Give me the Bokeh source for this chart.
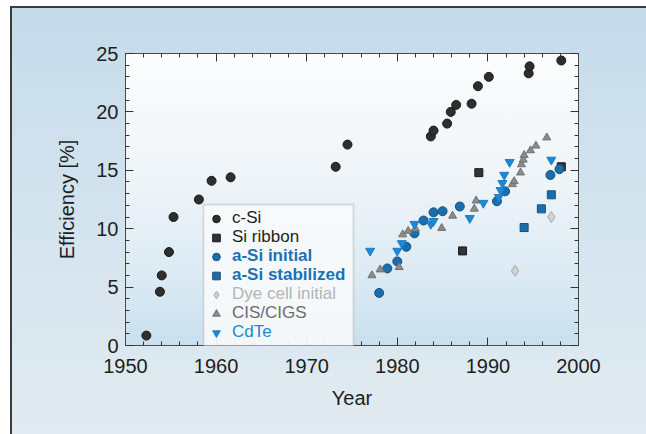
from bokeh.plotting import figure
from bokeh.models import (Legend, LegendItem, LinearAxis, SingleIntervalTicker, Range1d,
                          BoxAnnotation, CustomJSTickFormatter)
from bokeh.embed import file_html
from bokeh.resources import INLINE

# ---------------- data ----------------
c_si_year = [1952.3, 1953.8, 1954.0, 1954.8, 1955.3, 1958.1, 1959.5, 1961.6, 1973.2, 1974.5,
             1983.7, 1984.0, 1985.5, 1985.9, 1986.5, 1988.2, 1988.9, 1990.1, 1994.5, 1994.6, 1998.1]
c_si_eff = [0.85, 4.6, 6.0, 8.0, 11.0, 12.5, 14.1, 14.4, 15.3, 17.2,
            17.9, 18.4, 19.0, 20.0, 20.6, 20.7, 22.2, 23.0, 23.3, 23.9, 24.4]

ribbon_year = [1987.2, 1989.0, 1998.1]
ribbon_eff = [8.1, 14.8, 15.3]

asi_init_year = [1978.0, 1978.9, 1980.0, 1981.0, 1981.9, 1982.9, 1984.0, 1985.0, 1986.9,
                 1991.0, 1991.9, 1996.9, 1997.9]
asi_init_eff = [4.5, 6.6, 7.2, 8.45, 9.6, 10.7, 11.4, 11.5, 11.9, 12.35, 13.2, 14.6, 15.1]

asi_stab_year = [1994.0, 1995.9, 1997.0]
asi_stab_eff = [10.1, 11.7, 12.9]

dye_year = [1993.0, 1997.0]
dye_eff = [6.4, 11.0]

cis_year = [1977.2, 1978.1, 1980.2, 1980.6, 1981.2, 1982.0, 1984.9, 1986.1, 1988.5, 1988.7,
            1992.7, 1992.9, 1993.6, 1993.7, 1993.9, 1994.0, 1994.7, 1995.3, 1996.5]
cis_eff = [6.0, 6.5, 6.7, 9.5, 9.8, 10.0, 10.05, 11.1, 11.7, 12.4,
           13.8, 14.05, 14.8, 15.5, 15.9, 16.3, 16.7, 17.1, 17.8]

cdte_year = [1977.0, 1980.0, 1980.5, 1981.9, 1983.7, 1984.0, 1988.0, 1989.5, 1991.2, 1991.4,
             1991.6, 1991.8, 1992.4, 1997.0]
cdte_eff = [8.1, 8.1, 8.75, 10.4, 10.4, 10.65, 10.9, 12.2, 12.7, 13.3, 13.9, 14.6, 15.7, 15.9]

legend_labels = ["c-Si", "Si ribbon", "a-Si initial", "a-Si stabilized",
                 "Dye cell initial", "CIS/CIGS", "CdTe"]

# ---------------- styling ----------------
FONT = "Liberation Sans"
TXT = "#1e1e1e"
FRAME = "#4a4a4a"

panel_bg = ("linear-gradient(#3c3c3c, #3c3c3c) 10px 6px / 636px 2px no-repeat, "
            "linear-gradient(#3c3c3c, #3c3c3c) 10px 6px / 2px 428px no-repeat, "
            "linear-gradient(to bottom, #fcfdfe 0%, #eef4f8 45%, #d9e9f3 80%, #c9e0ee 100%) "
            "125px 53px / 453px 292px no-repeat, "
            "linear-gradient(to bottom, #c5dbea 0%, #d2e3ee 45%, #e2ebf1 100%) "
            "10px 6px / 636px 428px no-repeat, #ffffff")

p = figure(width=646, height=434, x_range=Range1d(1950, 2000), y_range=Range1d(0, 25),
           output_backend="svg", toolbar_location=None,
           min_border_left=125, min_border_right=68, min_border_top=53, min_border_bottom=89,
           background_fill_color=None, border_fill_color=None,
           outline_line_color=FRAME, outline_line_width=1,
           styles={"background": panel_bg})
p.grid.visible = False

bottom_ax = p.below[0]
left_ax = p.left[0]

xt = SingleIntervalTicker(interval=10, num_minor_ticks=5)
yt = SingleIntervalTicker(interval=5, num_minor_ticks=5)
bottom_ax.ticker = xt
left_ax.ticker = yt

blank = CustomJSTickFormatter(code="return ''")
top_ax = LinearAxis(ticker=xt, formatter=blank, major_label_standoff=0)
right_ax = LinearAxis(ticker=yt, formatter=blank, major_label_standoff=0)
p.add_layout(top_ax, "above")
p.add_layout(right_ax, "right")

for ax in [bottom_ax, left_ax, top_ax, right_ax]:
    ax.major_tick_in = 8
    ax.major_tick_out = 0
    ax.minor_tick_in = 4
    ax.minor_tick_out = 0
    ax.axis_line_color = FRAME
    ax.major_tick_line_color = "#333333"
    ax.minor_tick_line_color = "#333333"
    ax.major_label_text_font = FONT
    ax.major_label_text_color = TXT
    ax.axis_label_text_font = FONT
    ax.axis_label_text_color = TXT
    ax.axis_label_text_font_style = "normal"

bottom_ax.axis_label = "Year"
left_ax.axis_label = "Efficiency [%]"
for ax in [bottom_ax, left_ax]:
    ax.major_label_text_font_size = "20px"
    ax.axis_label_text_font_size = "20px"
bottom_ax.major_label_standoff = 13
bottom_ax.axis_label_standoff = 11
left_ax.major_label_standoff = 7
left_ax.axis_label_standoff = 15

# ---------------- data marks ----------------
r_csi = p.scatter(c_si_year, c_si_eff, marker="circle", size=9,
                  fill_color="#2e2e2e", line_color="#1a1a1a")
r_rib = p.scatter(ribbon_year, ribbon_eff, marker="square", size=8,
                  fill_color="#333333", line_color="#1a1a1a")
r_ai = p.scatter(asi_init_year, asi_init_eff, marker="circle", size=9,
                 fill_color="#1a6eae", line_color="#17527e")
r_as = p.scatter(asi_stab_year, asi_stab_eff, marker="square", size=8,
                 fill_color="#1a6eae", line_color="#17527e")
r_dye = p.scatter(dye_year, dye_eff, marker="diamond", size=11,
                  fill_color="#d2d2d2", line_color="#a8a8a8")
r_cis = p.scatter(cis_year, cis_eff, marker="triangle", size=8,
                  fill_color="#8c8c8c", line_color="#707070")
r_cdte = p.scatter(cdte_year, cdte_eff, marker="inverted_triangle", size=9,
                   fill_color="#1f88d6", line_color="#1f7cc2")

renderers = [r_csi, r_rib, r_ai, r_as, r_dye, r_cis, r_cdte]
label_colors = [TXT, TXT, "#1a72b6", "#1a72b6", "#b4b4b4", "#6c6c6c", "#1f86d2"]
label_styles = ["normal", "normal", "bold", "bold", "normal", "normal", "normal"]

# ---------------- legend (box + per-item coloured labels) ----------------
LX, LY, PITCH, PAD, LW = 78, -2, 19, 5, 150
n = len(legend_labels)

box = BoxAnnotation(left=LX, right=LX + LW, bottom=LY, top=LY + n * PITCH + 2 * PAD,
                    left_units="screen", right_units="screen",
                    bottom_units="screen", top_units="screen",
                    fill_color="#f8fafb", fill_alpha=0.93,
                    line_color="#9c9c9c", line_width=2)
p.add_layout(box)

for i, (l, r, c, s) in enumerate(zip(legend_labels, renderers, label_colors, label_styles)):
    lg = Legend(items=[LegendItem(label=l, renderers=[r])],
                location=(LX, LY + PAD + (n - 1 - i) * PITCH),
                padding=0, spacing=0, glyph_width=26, glyph_height=PITCH, label_height=PITCH,
                label_standoff=3, label_text_font=FONT, label_text_font_size="17px", margin=0,
                label_text_color=c, label_text_font_style=s,
                background_fill_alpha=0, border_line_alpha=0)
    p.add_layout(lg)

open("out.html", "w").write(file_html(p, INLINE))
